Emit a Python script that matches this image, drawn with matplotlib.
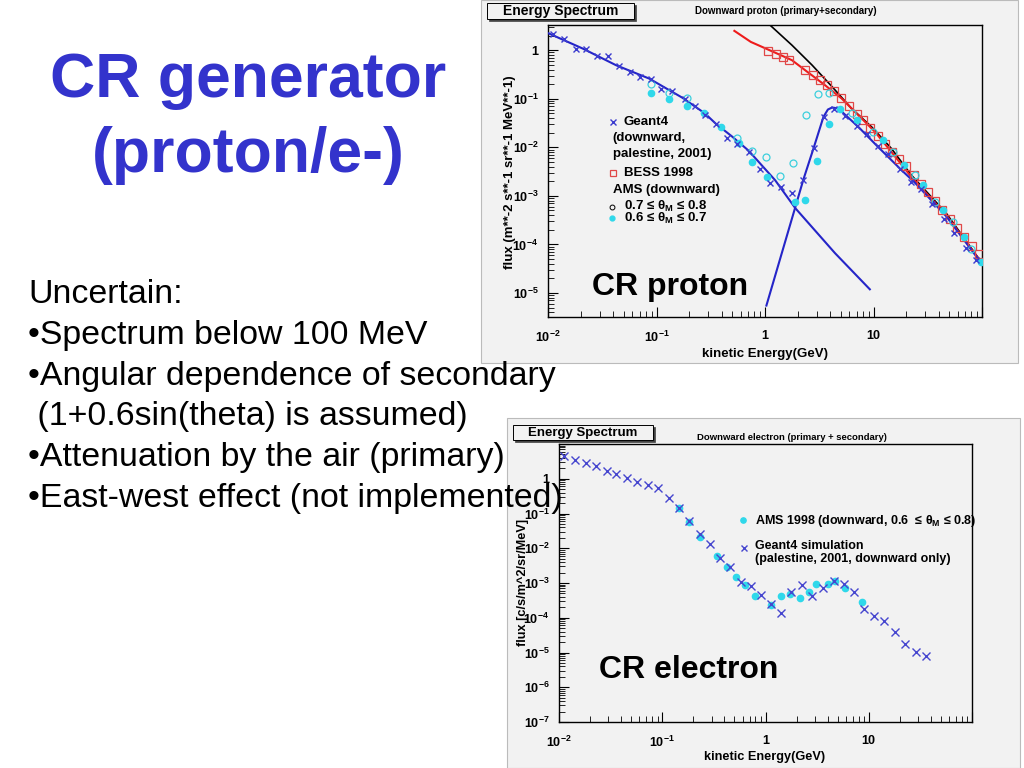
import numpy as np
import matplotlib
matplotlib.use('Agg')
from matplotlib import pyplot as plt
from matplotlib.lines import Line2D
from matplotlib.patches import Rectangle
from matplotlib.ticker import FixedLocator, FixedFormatter, LogLocator, NullFormatter

plt.rcParams['font.family'] = ['Liberation Sans', 'DejaVu Sans']
plt.rcParams['mathtext.fontset'] = 'custom'
plt.rcParams['mathtext.rm'] = 'Liberation Sans:bold'
plt.rcParams['mathtext.it'] = 'Liberation Sans:bold'
plt.rcParams['mathtext.bf'] = 'Liberation Sans:bold'
plt.rcParams['mathtext.default'] = 'rm'

#---------- proton data (E in GeV, flux) ----------
p_g4_e = [0.0112, 0.0139, 0.0180, 0.0225, 0.0281, 0.0358, 0.0447, 0.0565, 0.0705, 0.089,
          0.111, 0.140, 0.184, 0.224, 0.279, 0.356, 0.451, 0.555, 0.708, 0.895,
          1.12, 1.41, 1.78, 2.22, 2.81, 3.50, 4.37, 5.45, 7.05, 8.79,
          11.1, 13.7, 17.7, 22.1, 27.5, 34.4, 44.5, 55.5, 70.8, 88.3]
p_g4_f = [2.20, 1.66, 1.05, 1.08, 0.752, 0.752, 0.476, 0.352, 0.283, 0.253,
          0.162, 0.145, 0.0993, 0.0701, 0.0472, 0.0299, 0.0159, 0.01156, 0.00804, 0.00365,
          0.00185, 0.00153, 0.00115, 0.00210, 0.00988, 0.0423, 0.0608, 0.0437, 0.0276, 0.0192,
          0.0105, 0.00743, 0.00365, 0.00194, 0.00141, 6.72e-4, 3.40e-4, 1.72e-4, 8.59e-5, 4.86e-5]

p_bess_e = [1.06, 1.25, 1.47, 1.67, 2.33, 2.77, 3.20, 3.71, 4.30, 5.06, 5.94, 7.05, 8.05, 9.25,
            10.96, 12.7, 14.7, 17.1, 19.8, 23.4, 27.2, 31.5, 36.5, 42.9, 50.4, 58.3, 68.2, 80.2, 94.2]
p_bess_f = [0.97, 0.853, 0.729, 0.622, 0.387, 0.305, 0.241, 0.190, 0.145, 0.104, 0.0701, 0.0495,
            0.0361, 0.0255, 0.0169, 0.0119, 0.00804, 0.00586, 0.00414, 0.00266, 0.00179, 0.00121,
            7.74e-4, 5.05e-4, 3.30e-4, 2.18e-4, 1.43e-4, 9.3e-5, 6.26e-5]

p_ams7_e = [0.0887, 0.131, 0.192, 0.553, 0.760, 1.02, 1.38, 1.83, 2.38, 3.06, 3.92,
            6.3, 9.8, 15.2, 23.9, 36.5, 53.8, 80.0]
p_ams7_f = [0.200, 0.1285, 0.106, 0.01525, 0.00848, 0.00638, 0.00255, 0.0048, 0.046, 0.124, 0.132,
            0.052, 0.021, 8.1e-3, 2.68e-3, 7.6e-4, 2.94e-4, 8.0e-5]

p_ams6_e = [0.0887, 0.131, 0.192, 0.274, 0.389, 0.574, 0.760, 1.04, 1.90, 2.33, 3.00, 3.88, 4.88,
            7.1, 12.3, 19.0, 28.6, 43.6, 68.9, 97.9]
p_ams6_f = [0.1285, 0.101, 0.0714, 0.0499, 0.0264, 0.0120, 0.00503, 0.00247, 7.6e-4, 8.1e-4, 5.1e-3,
            0.0296, 0.062, 0.036, 0.0141, 4.4e-3, 1.67e-3, 5.1e-4, 1.44e-4, 4.4e-5]

prim_e = [0.01, 0.0209, 0.0424, 0.0857, 0.173, 0.279, 0.35, 0.50, 0.707, 1.24, 1.90, 4.42, 9.25]
prim_f = [2.25, 1.08, 0.49, 0.26, 0.105, 0.05, 0.031, 0.0165, 8.5e-3, 2.1e-3, 5.6e-4, 6.6e-5, 1.19e-5]

sec_e = [1.03, 1.90, 2.26, 2.80, 3.46, 3.80, 4.16, 4.74, 7.24, 11.0, 18.1, 23.9, 46.8, 97.9]
sec_f = [5.5e-6, 5.8e-4, 2.18e-3, 9.5e-3, 0.0425, 0.060, 0.066, 0.063, 0.0264, 0.0102, 3.4e-3,
         1.9e-3, 3.8e-4, 4.2e-5]

red_e = [0.522, 0.74, 1.29, 1.77, 2.34, 3.57, 5.08, 7.24, 10.3, 14.6, 22.3, 46.8, 97.9]
red_f = [2.50, 1.48, 0.855, 0.623, 0.388, 0.1905, 0.1014, 0.046, 0.0209, 8.07e-3, 2.47e-3,
         4.03e-4, 4.35e-5]

blk_e = [1.11, 1.77, 2.72, 4.16, 6.28, 9.6, 14.6, 22.3, 46.8, 97.9]
blk_f = [3.3, 1.27, 0.491, 0.176, 0.063, 0.0264, 9.5e-3, 2.68e-3, 4.4e-4, 4.4e-5]

#---------- electron data ----------
e_g4_e = [0.01125, 0.0144, 0.0182, 0.0228, 0.0289, 0.0360, 0.0454, 0.0575, 0.0720, 0.0912,
          0.115, 0.146, 0.182, 0.230, 0.288, 0.360, 0.449, 0.573, 0.716, 0.908,
          1.135, 1.42, 1.77, 2.26, 2.83, 3.61, 4.57, 5.71, 7.13, 8.91,
          11.3, 14.1, 17.8, 22.5, 28.6, 35.7]
e_g4_f = [4.41, 3.52, 2.76, 2.36, 1.69, 1.36, 1.04, 0.833, 0.668, 0.535,
          0.288, 0.141, 0.0608, 0.0251, 0.0135, 5.31e-3, 2.92e-3, 1.05e-3, 8.4e-4, 4.62e-4,
          2.54e-4, 1.37e-4, 5.40e-4, 9.0e-4, 4.13e-4, 7.2e-4, 1.12e-3, 9.4e-4, 5.5e-4, 1.82e-4,
          1.09e-4, 8.2e-5, 3.77e-5, 1.74e-5, 1.02e-5, 7.98e-6]

e_ams_e = [0.146, 0.182, 0.230, 0.337, 0.427, 0.513, 0.631, 0.783, 1.12, 1.42, 1.72, 2.14,
           2.62, 3.11, 4.00, 4.67, 5.93, 8.59]
e_ams_f = [0.141, 0.0568, 0.0215, 5.9e-3, 2.84e-3, 1.50e-3, 8.6e-4, 4.33e-4, 2.38e-4, 4.13e-4,
           4.94e-4, 3.71e-4, 5.4e-4, 9.4e-4, 9.4e-4, 1.12e-3, 7.2e-4, 2.77e-4]

xticks = [0.01, 0.1, 1, 10, 100]
xticklabels = ['$10^{-2}$', '$10^{-1}$', '1', '10', '']
p_yticks = [1e-5, 1e-4, 1e-3, 1e-2, 1e-1, 1]
p_yticklabels = ['$10^{-5}$', '$10^{-4}$', '$10^{-3}$', '$10^{-2}$', '$10^{-1}$', '1']
e_yticks = [1e-7, 1e-6, 1e-5, 1e-4, 1e-3, 1e-2, 1e-1, 1, 10]
e_yticklabels = ['$10^{-7}$', '$10^{-6}$', '$10^{-5}$', '$10^{-4}$', '$10^{-3}$', '$10^{-2}$',
                 '$10^{-1}$', '1', '']

BLUE = '#3333CC'
CYAN = '#2FD8EA'
GREY = '#F2F2F2'

W, H = 1024.0, 768.0
def fx(x):
    return x/W
def fy(y):
    return 1-y/H

fig = plt.figure(figsize=(10.24, 7.68), dpi=100)
fig.patch.set_facecolor('white')

def panel(x0, y0, x1, y1):
    fig.add_artist(Rectangle((fx(x0), fy(y1)), (x1-x0)/W, (y1-y0)/H, transform=fig.transFigure,
                             fc=GREY, ec='#BBBBBB', lw=0.8, zorder=-2))

def titlebox(x0, y0, x1, y1, fs):
    fig.add_artist(Rectangle((fx(x0+2), fy(y1+2)), (x1-x0)/W, (y1-y0)/H, transform=fig.transFigure,
                             fc='#444444', ec='#444444', lw=0.5, zorder=1))
    fig.add_artist(Rectangle((fx(x0), fy(y1)), (x1-x0)/W, (y1-y0)/H, transform=fig.transFigure,
                             fc=GREY, ec='black', lw=0.7, zorder=2))
    fig.text(fx((x0+x1)/2), fy((y0+y1)/2+0.5), 'Energy Spectrum', ha='center', va='center',
             fontsize=fs, fontweight='bold', zorder=3)

def style(ax, yticks, yticklabels):
    ax.set_facecolor(GREY)
    ax.set_xscale('log')
    ax.set_yscale('log')
    for s in ax.spines.values():
        s.set_linewidth(1.0)
    ax.xaxis.set_major_locator(FixedLocator(xticks))
    ax.xaxis.set_major_formatter(FixedFormatter(xticklabels))
    ax.xaxis.set_minor_locator(LogLocator(base=10, subs=np.arange(2, 10), numticks=20))
    ax.xaxis.set_minor_formatter(NullFormatter())
    ax.yaxis.set_major_locator(FixedLocator(yticks))
    ax.yaxis.set_major_formatter(FixedFormatter(yticklabels))
    ax.yaxis.set_minor_locator(LogLocator(base=10, subs=np.arange(2, 10), numticks=20))
    ax.yaxis.set_minor_formatter(NullFormatter())
    ax.tick_params(which='both', direction='in', top=False, right=False)
    ax.tick_params(which='major', length=7, width=0.8, labelsize=9)
    ax.tick_params(which='minor', length=4, width=0.6)
    ax.tick_params(axis='x', which='major', pad=9)
    ax.tick_params(axis='y', which='major', pad=7)
    for lab in ax.get_xticklabels() + ax.get_yticklabels():
        lab.set_fontweight('bold')

def mark(x, y, **kw):
    fig.add_artist(Line2D([fx(x)], [fy(y)], transform=fig.transFigure, ls='none', **kw))

#================= proton panel =================
panel(481, 0, 1018, 363)
titlebox(487, 3, 634, 19, 10)
fig.text(fx(786), fy(11), 'Downward proton (primary+secondary)', ha='center', va='center',
         fontsize=7, fontweight='bold')

axp = fig.add_axes([fx(548), fy(317), (982-548)/W, (317-25)/H])
style(axp, p_yticks, p_yticklabels)
axp.set_xlim(0.01, 100)
axp.set_ylim(3.2e-6, 3.3)

axp.plot(blk_e, blk_f, color='black', lw=1.2, zorder=2)
axp.plot(red_e, red_f, color='#EE1C1C', lw=1.5, zorder=2)
axp.plot(prim_e, prim_f, color='#2525C8', lw=1.5, zorder=3)
axp.plot(sec_e, sec_f, color='#2525C8', lw=1.5, zorder=3)
axp.plot(p_bess_e, p_bess_f, ls='none', marker='s', ms=5.5, mfc='none', mec='#E04848', mew=0.9, zorder=4)
axp.plot(p_ams7_e, p_ams7_f, ls='none', marker='o', ms=5, mfc='none', mec='#3CCFDD', mew=0.9, zorder=4)
axp.plot(p_ams6_e, p_ams6_f, ls='none', marker='o', ms=4.5, mfc=CYAN, mec=CYAN, zorder=4)
axp.plot(p_g4_e, p_g4_f, ls='none', marker='x', ms=5, mew=1.0, color='#3B3BCF', zorder=5)

fig.text(fx(510), fy(172), 'flux (m**-2 s**-1 sr**-1 MeV**-1)', rotation=90, ha='center',
         va='center', fontsize=9.5, fontweight='bold')
fig.text(fx(765), fy(354), 'kinetic Energy(GeV)', ha='center', va='center', fontsize=9.5,
         fontweight='bold')

# legend
lfs = 9.5
mark(612.7, 121.7, marker='x', ms=4.5, mew=1.0, color='#3B3BCF')
fig.text(fx(624), fy(122), 'Geant4', ha='left', va='center', fontsize=lfs, fontweight='bold')
fig.text(fx(612.7), fy(137.5), '(downward,', ha='left', va='center', fontsize=lfs, fontweight='bold')
fig.text(fx(612.7), fy(153.5), 'palestine, 2001)', ha='left', va='center', fontsize=lfs, fontweight='bold')
mark(612.7, 172.7, marker='s', ms=4.5, mfc='none', mec='#E04848', mew=0.9)
fig.text(fx(624), fy(173.5), 'BESS 1998', ha='left', va='center', fontsize=lfs, fontweight='bold')
fig.text(fx(612.7), fy(190), 'AMS (downward)', ha='left', va='center', fontsize=lfs, fontweight='bold')
mark(611.7, 206.7, marker='o', ms=3.5, mfc='none', mec='black', mew=0.7)
fig.text(fx(624), fy(206), '0.7 ≤ $\\theta_M$ ≤ 0.8', ha='left', va='center', fontsize=lfs, fontweight='bold')
mark(611.7, 218.3, marker='o', ms=3.5, mfc=CYAN, mec=CYAN)
fig.text(fx(624), fy(218.5), '0.6 ≤ $\\theta_M$ ≤ 0.7', ha='left', va='center', fontsize=lfs, fontweight='bold')

fig.text(fx(592), fy(295), 'CR proton', ha='left', va='baseline', fontsize=23, fontweight='bold')

#================= electron panel =================
panel(507, 418, 1020, 768)
titlebox(513, 425, 653, 440, 9.5)
fig.text(fx(792), fy(437.5), 'Downward electron (primary + secondary)', ha='center', va='center',
         fontsize=6.8, fontweight='bold')

axe = fig.add_axes([fx(559), fy(722), (972-559)/W, (722-444)/H])
style(axe, e_yticks, e_yticklabels)
axe.set_xlim(0.01, 100)
axe.set_ylim(1e-7, 10)

axe.plot(e_ams_e, e_ams_f, ls='none', marker='o', ms=4.5, mfc=CYAN, mec=CYAN, zorder=3)
axe.plot(e_g4_e, e_g4_f, ls='none', marker='x', ms=5.5, mew=1.0, color='#4646CF', zorder=4)

fig.text(fx(523), fy(582), 'flux [c/s/m^2/sr/MeV]', rotation=90, ha='center', va='center',
         fontsize=9.2, fontweight='bold')
fig.text(fx(765), fy(757), 'kinetic Energy(GeV)', ha='center', va='center', fontsize=9.2,
         fontweight='bold')

mark(743.3, 520, marker='o', ms=3.8, mfc=CYAN, mec=CYAN)
fig.text(fx(755), fy(521), 'AMS 1998 (downward, 0.6  ≤ $\\theta_M$ ≤ 0.8)', ha='left', va='center',
         fontsize=9, fontweight='bold')
mark(744.3, 548.3, marker='x', ms=5, mew=1.0, color='#4646CF')
fig.text(fx(755), fy(546), 'Geant4 simulation', ha='left', va='center', fontsize=9, fontweight='bold')
fig.text(fx(755), fy(559), '(palestine, 2001, downward only)', ha='left', va='center', fontsize=9,
         fontweight='bold')

fig.text(fx(599), fy(678), 'CR electron', ha='left', va='baseline', fontsize=23, fontweight='bold')

#================= slide text =================
fig.text(fx(248), fy(97), 'CR generator', ha='center', va='baseline', fontsize=45,
         fontweight='bold', color=BLUE)
fig.text(fx(248), fy(172), '(proton/e-)', ha='center', va='baseline', fontsize=45,
         fontweight='bold', color=BLUE)

lines = ['Uncertain:',
         '\u2022Spectrum below 100 MeV',
         '\u2022Angular dependence of secondary',
         ' (1+0.6sin(theta) is assumed)',
         '\u2022Attenuation by the air (primary)',
         '\u2022East-west effect (not implemented)']
baselines = [303, 344, 385, 425, 466, 507]
for t, b in zip(lines, baselines):
    fig.text(fx(28), fy(b), t, ha='left', va='baseline', fontsize=24.4, color='black', zorder=6)

plt.savefig('out.png', dpi=100)
